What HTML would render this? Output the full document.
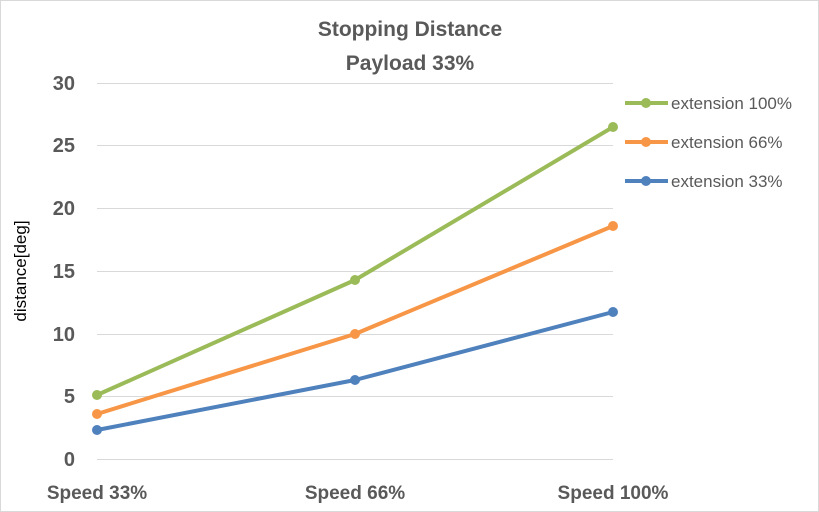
<!DOCTYPE html>
<html><head><style>body{margin:0;background:#fff}svg{display:block}</style></head><body>
<svg width="819" height="512" xmlns="http://www.w3.org/2000/svg" font-family="Liberation Sans, sans-serif">
<rect x="0.5" y="0.5" width="818" height="511" fill="#fff" stroke="#d9d9d9"/>
<text x="410" y="36" text-anchor="middle" font-size="21" font-weight="bold" fill="#595959">Stopping Distance</text>
<text x="410" y="70" text-anchor="middle" font-size="21" font-weight="bold" fill="#595959">Payload 33%</text>
<g stroke="#d9d9d9" stroke-width="1">
<line x1="97" x2="613" y1="83.5" y2="83.5"/><line x1="97" x2="613" y1="145.5" y2="145.5"/>
<line x1="97" x2="613" y1="208.5" y2="208.5"/><line x1="97" x2="613" y1="271.5" y2="271.5"/>
<line x1="97" x2="613" y1="334.5" y2="334.5"/><line x1="97" x2="613" y1="396.5" y2="396.5"/>
<line x1="97" x2="613" y1="459.5" y2="459.5"/>
</g>
<g font-size="20" font-weight="bold" fill="#595959" text-anchor="end">
<text x="75" y="90">30</text><text x="75" y="152">25</text><text x="75" y="215">20</text>
<text x="75" y="278">15</text><text x="75" y="341">10</text><text x="75" y="403">5</text><text x="75" y="466">0</text>
</g>
<text transform="translate(26,271) rotate(-90)" text-anchor="middle" font-size="17" fill="#000">distance[deg]</text>
<g font-size="19" font-weight="bold" fill="#595959" text-anchor="middle">
<text x="97" y="499">Speed 33%</text><text x="355" y="499">Speed 66%</text><text x="613" y="499">Speed 100%</text>
</g>
<g stroke-width="4" fill="none" stroke-linejoin="round">
<polyline stroke="#4f81bd" points="97,430 355,380 613,312"/>
<polyline stroke="#f79646" points="97,414 355,334 613,226"/>
<polyline stroke="#9bbb59" points="97,395 355,280 613,127"/>
</g>
<g fill="#4f81bd"><circle cx="97" cy="430" r="5"/><circle cx="355" cy="380" r="5"/><circle cx="613" cy="312" r="5"/></g>
<g fill="#f79646"><circle cx="97" cy="414" r="5"/><circle cx="355" cy="334" r="5"/><circle cx="613" cy="226" r="5"/></g>
<g fill="#9bbb59"><circle cx="97" cy="395" r="5"/><circle cx="355" cy="280" r="5"/><circle cx="613" cy="127" r="5"/></g>
<line x1="625" x2="668" y1="103" y2="103" stroke="#9bbb59" stroke-width="4"/><circle cx="646" cy="103" r="5" fill="#9bbb59"/>
<line x1="625" x2="668" y1="142" y2="142" stroke="#f79646" stroke-width="4"/><circle cx="646" cy="142" r="5" fill="#f79646"/>
<line x1="625" x2="668" y1="181" y2="181" stroke="#4f81bd" stroke-width="4"/><circle cx="646" cy="181" r="5" fill="#4f81bd"/>
<g font-size="17" fill="#595959">
<text x="671" y="109">extension 100%</text><text x="671" y="148">extension 66%</text><text x="671" y="187">extension 33%</text>
</g>
</svg>
</body></html>
